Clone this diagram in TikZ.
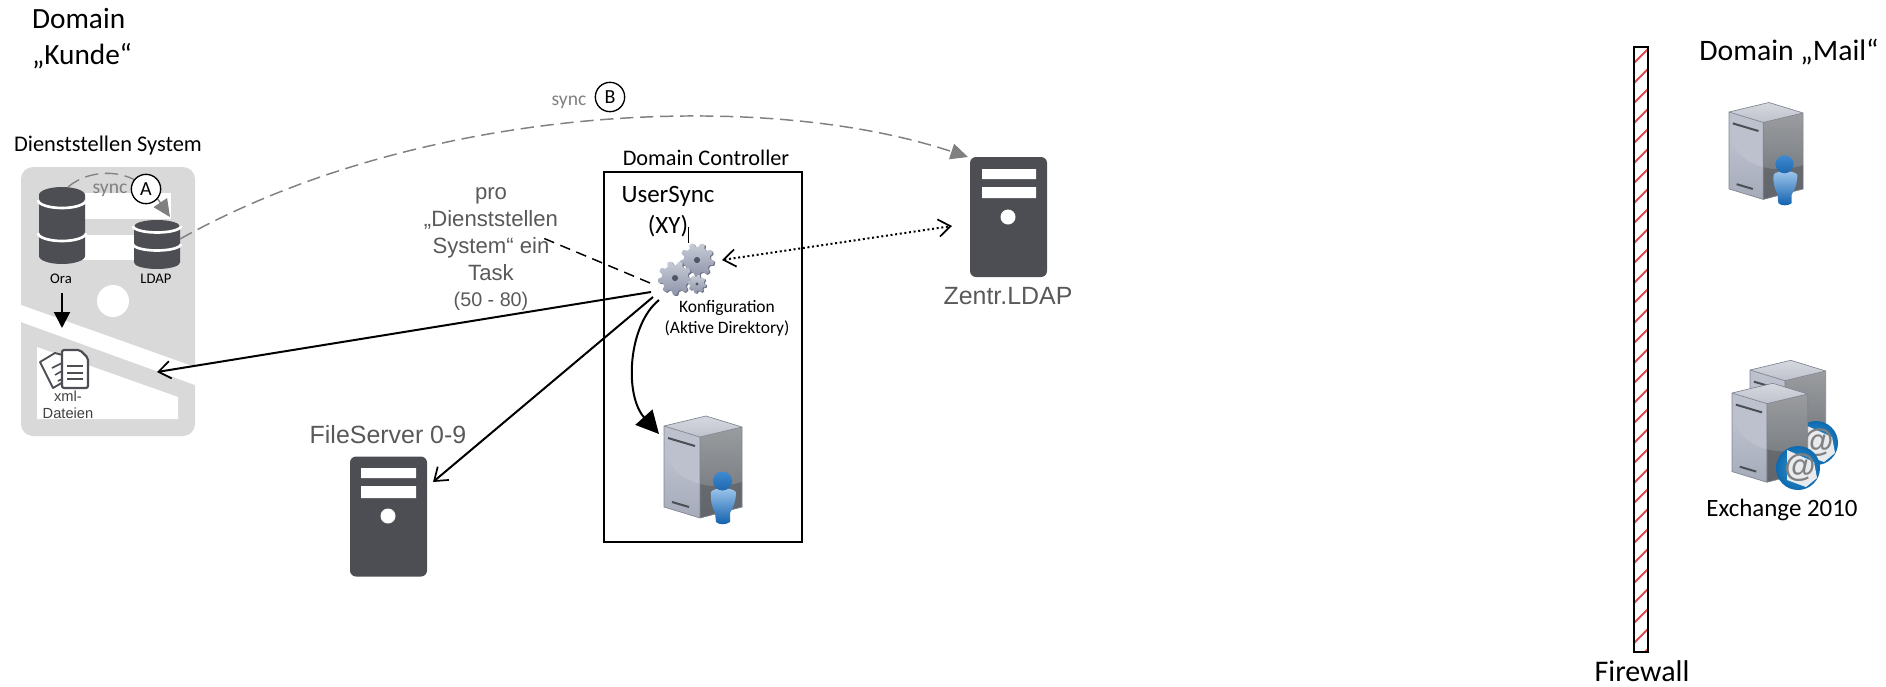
\documentclass[tikz,border=0pt]{standalone}
\usepackage{fontspec}
\usetikzlibrary{arrows.meta,shadings}
\setmainfont{Carlito}
\newfontfamily\arifont{Liberation Sans}
\definecolor{icon}{HTML}{4D4E53}
\definecolor{panel}{HTML}{D9D9D9}
\definecolor{labelgray}{HTML}{595959}
\definecolor{syncgray}{HTML}{808080}
\newcommand{\hexc}[1]{\definecolor{#1}{HTML}{#1}}
\hexc{C6CAD6}\hexc{A6ABBA}\hexc{BDC1CE}\hexc{9A9C9F}\hexc{6C7076}\hexc{5F6368}
\hexc{D6D8E0}\hexc{BFC2CC}\hexc{7F8590}\hexc{4A4F55}\hexc{A0C8EC}\hexc{0F5FAE}
\hexc{3F8AD0}\hexc{1F68B0}\hexc{2E9AD8}\hexc{0F6AAE}\hexc{E8EAEE}\hexc{6E7485}\hexc{C8CCD8}\hexc{8E94A8}
\hexc{4F5565}\hexc{404040}\hexc{E0474C}
\newcommand{\fsz}[2]{\fontsize{#1}{#2}\selectfont}
% 3D server body; origin is the upper left corner of the box
\newcommand{\serverbody}{%
  \shade[top color=C6CAD6,bottom color=A6ABBA] (0,0) -- (36,11) -- (36,92) -- (0,81) -- cycle;
  \fill[BDC1CE] (0,0) -- (36,11) -- (36,58) .. controls (15,52) and (3,40) .. (0,18) -- cycle;
  \shade[top color=9A9C9F,bottom color=6C7076] (36,11) -- (78,1) -- (78,81) -- (36,92) -- cycle;
  \fill[5F6368,opacity=.75] (36,58) .. controls (50,62) and (65,60) .. (78,56) -- (78,81) -- (36,92) -- cycle;
  \shade[top color=D6D8E0,bottom color=BFC2CC] (0,0) -- (42,-10) -- (78,1) -- (36,11) -- cycle;
  \draw[draw=7F8590,line width=.5pt] (0,0) -- (42,-10) -- (78,1) -- (78,81) -- (36,92) -- (0,81) -- cycle (0,0) -- (36,11) -- (78,1) (36,11) -- (36,92);
  \draw[draw=4A4F55,line width=1.5pt] (4,12) -- (31,20) (8,76) -- (25,81);
}
\newcommand{\personicon}{%
  \shade[top color=A0C8EC,bottom color=0F5FAE] (47,66) .. controls (50,61) and (68,61) .. (72,66)
     .. controls (72,75) and (69,82) .. (66,87) -- (66,96) .. controls (62,99) and (55,99) .. (52,96) -- (51,87)
     .. controls (48,80) and (46,74) .. (47,66) -- cycle;
  \shade[top color=3F8AD0,bottom color=1F68B0] (58.5,55) circle[radius=9.5];
}
\newcommand{\mailicon}[2]{%
  \begin{scope}[shift={(#1,#2)}]
    \shade[inner color=2E9AD8,outer color=0F6AAE] (0,0) circle[radius=22];
    \fill[E8EAEE] (-11,-18) -- (16,-6) -- (19,10) -- (8,19) -- (-11,12) -- cycle;
    \node[inner sep=0pt,text=gray,font=\arifont\bfseries\fsz{24}{24}] at (2,0) {@};
  \end{scope}
}
\newcommand{\gearicon}[4]{%
  \begin{scope}[shift={(#1,#2)}]
    \fill[6E7485,shift={(1.2,.8)}] plot[samples=145,domain=0:360,variable=\t]
      ({#3*(0.89+0.11*max(-1,min(1,2*sin(#4*\t))))*cos(\t)},{#3*(0.89+0.11*max(-1,min(1,2*sin(#4*\t))))*sin(\t)}) -- cycle;
    \shade[top color=C8CCD8,bottom color=8E94A8] plot[samples=145,domain=0:360,variable=\t]
      ({#3*(0.89+0.11*max(-1,min(1,2*sin(#4*\t))))*cos(\t)},{#3*(0.89+0.11*max(-1,min(1,2*sin(#4*\t))))*sin(\t)}) -- cycle;
    \fill[4F5565] (0,0) circle[radius=#3*0.18];
  \end{scope}
}
\newcommand{\dbicon}[6]{% cx, top y, bottom y, ry, gap1 y, gap2 y
  \fill[icon] (#1-23,#2+#4) arc[start angle=180,end angle=360,x radius=23,y radius=#4]
     -- (#1+23,#3-#4) arc[start angle=0,end angle=180,x radius=23,y radius=#4] -- cycle;
  \draw[white,line width=2pt] (#1-24,#5) arc[start angle=180,end angle=0,x radius=24,y radius=#4];
  \draw[white,line width=2pt] (#1-24,#6) arc[start angle=180,end angle=0,x radius=24,y radius=#4];
}
\tikzset{
  x=0.75pt,y=-0.75pt,
  calib/.style={inner sep=0pt,align=center},
  arial/.style={inner sep=0pt,align=center,text=labelgray},
  towericon/.style={fill=icon,rounded corners=4.5pt,minimum width=57.75pt,minimum height=90pt,inner sep=0pt},
  openline/.style={black,line width=1.5pt,-{Straight Barb[length=9pt,width=13pt,line width=1.3pt]}},
  solidhead/.style={black,line width=1.5pt,-{Triangle[length=12pt,width=12pt]}},
  syncline/.style={draw=syncgray,line width=1.1pt,dash pattern=on 10pt off 5pt,-{Triangle[length=13pt,width=12pt,fill=syncgray]}},
  badge/.style={circle,draw=black,fill=white,line width=1pt,minimum size=22pt,inner sep=0pt},
}
\begin{document}
\begin{tikzpicture}
\useasboundingbox (0,0) rectangle (1886,686);

% ---------- Dienststellen System panel
\node[fill=panel,rounded corners=9pt,minimum width=130.5pt,minimum height=201.75pt,inner sep=0pt] (panel) at (108,301.5) {};
\fill[white] (55,193) rectangle (171,219);
\fill[white] (55,235) rectangle (171,260);
\fill[white] (113,301) circle[radius=16];
\fill[white] (21,305) -- (195,367) -- (195,385) -- (21,322) -- cycle;
\fill[white] (37,347) -- (178,397) -- (178,419) -- (37,419) -- cycle;
\dbicon{62}{187}{264}{8}{200}{233}
\dbicon{157}{220}{269}{6.5}{226}{244}
\node[calib,font=\fsz{11}{11}] (ora) at (61,279) {Ora};
\node[calib,font=\fsz{11}{11}] (ldap) at (156,279) {LDAP};
\coordinate (oraTop) at (68,187);
\coordinate (ldapTop) at (170,217);
\coordinate (ldapSide) at (180,239);
\coordinate (oraOut) at (62,293);
\coordinate (xmlIn) at (62,328);
\coordinate (panelIn) at (157,372);

% document icon
\draw[icon,fill=white,line width=1.4pt,line join=round] (40,362) -- (55,353) -- (66,356) -- (70,378) -- (53,388) -- cycle;
\draw[icon,line width=1.2pt] (52,368) -- (62,363) (55,375) -- (62,371) (58,381) -- (62,379);
\draw[icon,fill=white,line width=1.6pt,line join=round,rounded corners=1.5pt] (62,350) -- (80,350) -- (88,358) -- (88,388) -- (62,388) -- cycle;
\draw[icon,line width=1.2pt] (67,366) -- (83,366) (67,373) -- (83,373) (67,379) -- (83,379);
\node[arial,text=404040,font=\arifont\fsz{11}{13.1}] (xml) at (68,404.5) {xml-\\Dateien};

% titles
\node[calib,align=left,font=\fsz{22}{27}] (kunde) at (82,39) {Domain\\„Kunde“};
\node[calib,font=\fsz{16.8}{16.8}] (dstitle) at (108,146) {Dienststellen System};
\node[calib,font=\fsz{22.3}{22.3}] (mailtitle) at (1789,52) {Domain „Mail“};

% ---------- Domain Controller
\node[draw=black,line width=1.5pt,minimum width=148.5pt,minimum height=277.5pt,inner sep=0pt] (dc) at (703,357) {};
\node[calib,font=\fsz{16.7}{16.7}] (dctitle) at (706,158) {Domain Controller};
\node[calib,font=\fsz{18.7}{23.2}] (usersync) at (668,212) {UserSync\\(XY)};
\draw[black,line width=.6pt] (688,227) -- (688,243);
\gearicon{697}{260}{17}{9}
\gearicon{675}{278}{17}{9}
\gearicon{697}{284}{9}{8}
\coordinate (gearW) at (651,292);
\coordinate (gearSW) at (653,297);
\coordinate (gearS) at (659,300);
\coordinate (gearNW) at (650,283);
\coordinate (gearE) at (722,260);
\node[calib,font=\fsz{13.1}{15.8}] (konf) at (727,318.5) {Konfiguration\\(Aktive Direktory)};
\begin{scope}[shift={(664,426)}]
  \serverbody
  \personicon
\end{scope}
\coordinate (dcServer) at (659,434);

% pro-text
\node[arial,font=\arifont\fsz{16.6}{20.3}] (pro) at (491,234) {pro\\„Dienststellen\\System“ ein\\Task};
\node[arial,font=\arifont\fsz{14.8}{14.8}] (tasks) at (491,301) {(50 - 80)};
\coordinate (proEnd) at (543,238);

% ---------- servers left
\node[towericon] (zentr) at (1008.5,217) {};
\fill[white] (982,169) rectangle (1036,179) (982,187) rectangle (1036,198);
\fill[white] (1008,217) circle[radius=7.5];
\node[arial,font=\arifont\fsz{18.7}{18.7}] (zentrlabel) at (1008,296) {Zentr.LDAP};
\coordinate (zentrW) at (952,226);
\coordinate (zentrNW) at (968,157);

\node[towericon] (file) at (388.5,516.5) {};
\fill[white] (361,468) rectangle (416,478) (361,486) rectangle (416,498);
\fill[white] (388,516) circle[radius=7.5];
\node[arial,font=\arifont\fsz{18.7}{18.7}] (filelabel) at (388,435) {FileServer 0-9};
\coordinate (fileNE) at (433,482);

% ---------- firewall
\begin{scope}
  \clip (1634,47) rectangle (1648,652);
  \foreach \k in {0,...,30}{
    \draw[E0474C,line width=1.4pt] (1630,{67+20*\k}) -- (1652,{45+20*\k});
  }
\end{scope}
\node[draw=black,line width=1.2pt,minimum width=10.5pt,minimum height=453.75pt,inner sep=0pt] (fw) at (1641,349.5) {};
\node[calib,font=\fsz{22.5}{22.5}] (fwlabel) at (1642,671) {Firewall};

% ---------- mail servers
\begin{scope}[shift={(1729,112)},scale=.95]
  \serverbody
  \personicon
\end{scope}
\begin{scope}[shift={(1750,370)},scale=.97]
  \serverbody
\end{scope}
\mailicon{1816}{443}
\begin{scope}[shift={(1732,393)},scale=.97]
  \serverbody
\end{scope}
\mailicon{1798}{468}
\node[calib,font=\fsz{18.7}{18.7}] (exch) at (1782,510) {Exchange 2010};

% ---------- connectors
\draw[syncline] (ldapSide) .. controls (420,105) and (760,88) .. (zentrNW);
\draw[syncline,line width=1pt] (oraTop) .. controls (90,168) and (135,165) .. (ldapTop);
\node[calib,text=syncgray,font=\fsz{14.7}{14.7}] (syncA) at (110,190) {sync};
\node[badge,font=\fsz{15}{15}] (badgeA) at (146,189) {A};
\node[calib,text=syncgray,font=\fsz{14.7}{14.7}] (syncB) at (569,102) {sync};
\node[badge,font=\fsz{15}{15}] (badgeB) at (610,97) {B};

\draw[solidhead] (oraOut) -- (xmlIn);
\draw[openline] (gearW) -- (panelIn);
\draw[openline] (gearSW) -- (fileNE);
\draw[solidhead,-{Triangle[length=17pt,width=17pt]}] (gearS) .. controls (628,325) and (624,395) .. (dcServer);
\draw[black,line width=1.1pt,dash pattern=on 8pt off 5pt] (gearNW) -- (proEnd);
\draw[black,line width=1.5pt,dotted,{Straight Barb[length=9pt,width=13pt,line width=1.3pt,line cap=butt]}-{Straight Barb[length=9pt,width=13pt,line width=1.3pt]}] (gearE) -- (zentrW);
\end{tikzpicture}
\end{document}
